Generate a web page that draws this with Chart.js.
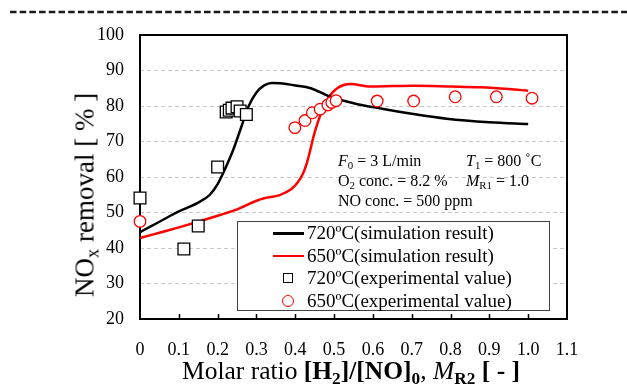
<!DOCTYPE html>
<html>
<head>
<meta charset="utf-8">
<script src="https://cdn.jsdelivr.net/npm/chart.js@4.4.0/dist/chart.umd.min.js"></script>
<style>
  html, body { margin: 0; padding: 0; background: #fff; }
  #wrap { position: relative; width: 627px; height: 389px; font-family: "Liberation Serif", "Times New Roman", serif; color: #000; overflow: hidden; }
  #chart { position: absolute; left: 0; top: 0; }
  .ytitle { position: absolute; left: 85px; top: 195px; transform: translate(-50%, -50%) rotate(-90deg); font-size: 27px; white-space: nowrap; }
  .xtitle { position: absolute; left: 351px; top: 371px; transform: translate(-50%, -50%); font-size: 25.5px; white-space: nowrap; }
  .note { position: absolute; font-size: 16px; white-space: nowrap; line-height: 1; transform: translateY(-50%); }
  sub { font-size: 0.68em; vertical-align: baseline; position: relative; top: 0.28em; }
  b sub { font-weight: bold; }
  #legend { position: absolute; left: 237px; top: 221px; width: 311px; height: 88px; border: 1px solid #404040; background: #fff; }
  #legend .item { position: absolute; left: 0; height: 22px; display: flex; align-items: center; font-size: 19px; white-space: nowrap; }
  #legend .sample { width: 31px; margin-left: 35px; margin-right: 3px; position: relative; height: 14px; }
  #legend .line { position: absolute; left: 0; right: 0; top: 6px; height: 2.5px; }
  #legend .rect { position: absolute; left: 10px; top: 2px; width: 10px; height: 10px; border: 1.3px solid #000; box-sizing: border-box; }
  #legend .circ { position: absolute; left: 9px; top: 1px; width: 12px; height: 12px; border: 1.3px solid #f00; border-radius: 50%; box-sizing: border-box; }
</style>
</head>
<body>
<div id="wrap">
  <canvas id="chart" width="627" height="389"></canvas>
  <div class="ytitle">NO<sub>x</sub> removal [ % ]</div>
  <div class="xtitle">Molar ratio <b>[H<sub>2</sub>]/[NO]<sub>0</sub></b>, <i>M</i><b><sub>R2</sub> [ - ]</b></div>
  <div class="note" style="left:338px; top:161px"><i>F</i><sub>0</sub> = 3 L/min</div>
  <div class="note" style="left:466px; top:161px"><i>T</i><sub>1</sub> = 800 ˚C</div>
  <div class="note" style="left:338px; top:181px">O<sub>2</sub> conc. = 8.2 %</div>
  <div class="note" style="left:466px; top:181px"><i>M</i><sub>R1</sub> = 1.0</div>
  <div class="note" style="left:338px; top:201px">NO conc. = 500 ppm</div>
  <div id="legend"></div>
</div>
<script>
const xTicks = [0, 0.1, 0.2, 0.3, 0.4, 0.5, 0.6, 0.7, 0.8, 0.9, 1, 1.1];
const yTicks = [20, 30, 40, 50, 60, 70, 80, 90, 100];

const seriesNames = [
  '720ºC(simulation result)',
  '650ºC(simulation result)',
  '720ºC(experimental value)',
  '650ºC(experimental value)'
];

// simulation, 720 ºC
const sim720X = [0, 0.05, 0.1, 0.15, 0.18, 0.2, 0.22, 0.24, 0.26, 0.28, 0.3, 0.32, 0.34, 0.36, 0.4, 0.44, 0.49, 0.55, 0.62, 0.7, 0.79, 0.9, 1.0];
const sim720Y = [44.5, 47.4, 50.3, 52.8, 55, 58, 62.5, 67.6, 73.8, 80, 83.8, 85.8, 86.5, 86.4, 85.8, 85, 82.6, 80.8, 79.3, 77.8, 76.4, 75.4, 74.9];

// simulation, 650 ºC
const sim650X = [0, 0.05, 0.1, 0.15, 0.2, 0.25, 0.3, 0.32, 0.36, 0.39, 0.405, 0.42, 0.43, 0.44, 0.447, 0.46, 0.473, 0.49, 0.508, 0.525, 0.542, 0.593, 0.65, 0.705, 0.8, 0.877, 0.95, 1.0];
const sim650Y = [42.8, 44.3, 45.8, 47.4, 49.1, 50.9, 53.3, 54, 54.9, 56.6, 58.3, 61, 64, 68.2, 71.4, 76, 79.8, 83, 85, 85.9, 86.2, 85.5, 85.6, 85.7, 85.5, 85.3, 84.8, 84.3];

// experiment, 720 ºC
const exp720X = [0, 0.113, 0.15, 0.2, 0.222, 0.23, 0.237, 0.25, 0.258, 0.274];
const exp720Y = [54.1, 39.7, 46.2, 62.8, 78.3, 78.8, 79.4, 79.8, 78.6, 77.6];

// experiment, 650 ºC
const exp650X = [0, 0.399, 0.425, 0.444, 0.464, 0.484, 0.494, 0.505, 0.611, 0.705, 0.812, 0.918, 1.01];
const exp650Y = [47.5, 73.9, 75.9, 78.1, 79.1, 80.3, 81, 81.5, 81.4, 81.4, 82.6, 82.6, 82.2];

const pairs = (xs, ys) => xs.map((x, i) => ({ x: x, y: ys[i] }));

// frame, inner ticks and the dashed rule at the top
const framePlugin = {
  id: 'frame',
  beforeDatasetsDraw(chart) {
    const { ctx, chartArea: a, scales } = chart;
    ctx.save();
    ctx.strokeStyle = '#000';
    ctx.lineWidth = 2;
    ctx.strokeRect(a.left, a.top, a.right - a.left, a.bottom - a.top);
    ctx.lineWidth = 1.5;
    ctx.beginPath();
    xTicks.slice(1, -1).forEach(v => {
      const px = Math.round(scales.x.getPixelForValue(v)) + 0.5;
      ctx.moveTo(px, a.bottom);
      ctx.lineTo(px, a.bottom - 5);
    });
    ctx.stroke();
    ctx.restore();
  },
  afterDraw(chart) {
    const ctx = chart.ctx;
    ctx.save();
    ctx.strokeStyle = '#1a1a1a';
    ctx.lineWidth = 2.5;
    ctx.setLineDash([6.5, 3.2]);
    ctx.beginPath();
    ctx.moveTo(10, 12);
    ctx.lineTo(627, 12);
    ctx.stroke();
    ctx.restore();
  }
};

const legendPlugin = {
  id: 'htmlLegend',
  afterUpdate(chart) {
    const box = document.getElementById('legend');
    box.innerHTML = '';
    chart.data.datasets.forEach((ds, i) => {
      const item = document.createElement('div');
      item.className = 'item';
      item.style.top = (i * 22.5) + 'px';
      const sample = document.createElement('span');
      sample.className = 'sample';
      const mark = document.createElement('span');
      if (ds.showLine) {
        mark.className = 'line';
        mark.style.background = ds.borderColor;
      } else {
        mark.className = ds.pointStyle === 'rect' ? 'rect' : 'circ';
      }
      sample.appendChild(mark);
      item.appendChild(sample);
      item.appendChild(document.createTextNode(ds.label));
      box.appendChild(item);
    });
  }
};

new Chart(document.getElementById('chart'), {
  type: 'scatter',
  data: {
    datasets: [
      {
        label: seriesNames[0], data: pairs(sim720X, sim720Y), showLine: true,
        borderColor: '#000000', borderWidth: 2.5, pointRadius: 0,
        cubicInterpolationMode: 'monotone', order: 2, clip: false
      },
      {
        label: seriesNames[1], data: pairs(sim650X, sim650Y), showLine: true,
        borderColor: '#ff0000', borderWidth: 2.5, pointRadius: 0,
        cubicInterpolationMode: 'monotone', order: 2, clip: false
      },
      {
        label: seriesNames[2], data: pairs(exp720X, exp720Y), showLine: false,
        pointStyle: 'rect', pointRadius: 8.3, borderColor: '#000000', borderWidth: 1.3,
        backgroundColor: '#ffffff', order: 1, clip: false
      },
      {
        label: seriesNames[3], data: pairs(exp650X, exp650Y), showLine: false,
        pointStyle: 'circle', pointRadius: 5.8, borderColor: '#ff0000', borderWidth: 1.3,
        backgroundColor: '#ffffff', order: 1, clip: false
      }
    ]
  },
  options: {
    responsive: false,
    animation: false,
    events: [],
    layout: { padding: { top: 35, right: 60, left: 0, bottom: 0 } },
    plugins: { legend: { display: false }, tooltip: { enabled: false } },
    scales: {
      x: {
        type: 'linear', min: 0, max: 1.1,
        afterBuildTicks: s => { s.ticks = xTicks.map(v => ({ value: v })); },
        afterFit: s => { s.height = 70; },
        grid: { display: false },
        border: { display: false },
        ticks: { color: '#000', padding: 12, maxRotation: 0, autoSkip: false, font: { family: 'Liberation Serif', size: 18 } }
      },
      y: {
        min: 20, max: 100,
        afterBuildTicks: s => { s.ticks = yTicks.map(v => ({ value: v })); },
        afterFit: s => { s.width = 140; },
        grid: { color: '#c8c8c8', lineWidth: 1, drawTicks: false },
        border: { display: false, dash: [4, 3] },
        ticks: { color: '#000', padding: 16, font: { family: 'Liberation Serif', size: 18 } }
      }
    }
  },
  plugins: [framePlugin, legendPlugin]
});
</script>
</body>
</html>
